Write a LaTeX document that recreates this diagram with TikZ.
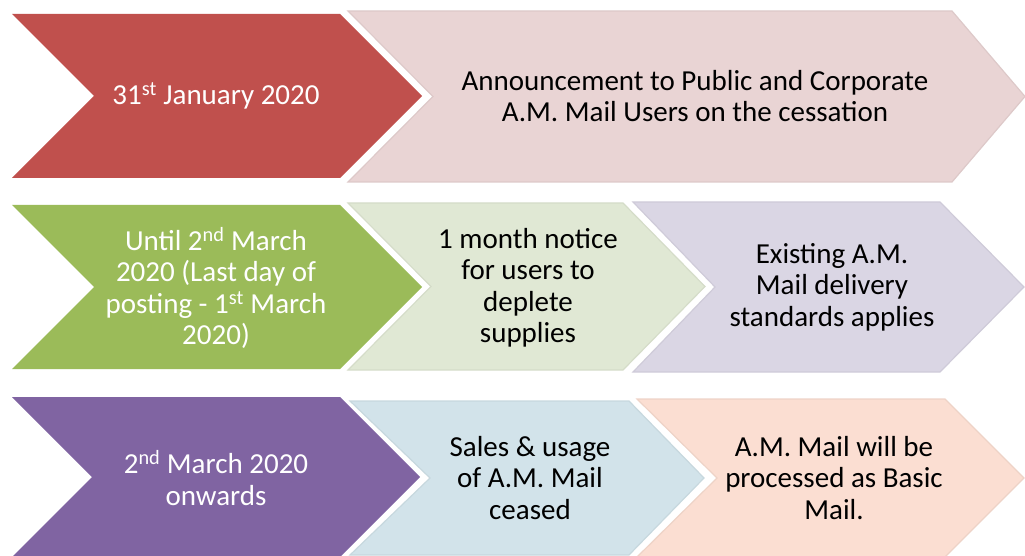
\documentclass[tikz,border=0pt]{standalone}
\usepackage{fontspec}
\setmainfont{Carlito}
\usepackage{xcolor}
\usepackage{tikz}
\usetikzlibrary{positioning}
\definecolor{redDark}{HTML}{C0504D}
\definecolor{greenDark}{HTML}{9BBB59}
\definecolor{purpleDark}{HTML}{8064A2}
\definecolor{pinkLight}{HTML}{E9D4D4}
\definecolor{greenLight}{HTML}{E0E8D4}
\definecolor{lavenderLight}{HTML}{DAD6E4}
\definecolor{blueLight}{HTML}{D2E3EA}
\definecolor{peachLight}{HTML}{FBDED2}
\tikzstyle{darkChevron}=[draw=none]
\tikzstyle{lightChevron}=[line width=1.2pt, line join=miter]
\tikzstyle{chevronText}=[align=center, font=\fontsize{29}{31.5}\selectfont, inner sep=0pt]
\tikzstyle{darkText}=[chevronText, text=white]
\tikzstyle{lightText}=[chevronText, text=black]

\begin{document}
\begin{tikzpicture}[x=1pt, y=-1pt]
      \useasboundingbox (0,0) rectangle (1025,556);

      % light chevrons: left/top/right/bottom/tip/notch/colour
      \foreach \l/\t/\r/\b/\d/\n/\c in {348/11/952/182/73/85/pinkLight,
        348/203/623/370/82/83/greenLight, 633/202/940/372/84/82/lavenderLight,
        350/401/629/555/75/80/blueLight, 637/399/945/557/79/80/peachLight}{
        \draw[lightChevron, fill=\c, draw=\c!95!black]
        (\l,\t) -- (\r,\t) -- ({\r+\d},{(\t+\b)/2}) -- (\r,\b) --
        (\l,\b) -- ({\l+\n},{(\t+\b)/2}) -- cycle;
      }

      % dark chevrons
      \foreach \t/\b/\c in {14/178/redDark, 205/369/greenDark, 397/557/purpleDark}{
        \fill[darkChevron, \c]
        (12,\t) -- (340,\t) -- ({340+(\b-\t)/2},{(\t+\b)/2}) -- (340,\b) --
        (12,\b) -- ({12+(\b-\t)/2},{(\t+\b)/2}) -- cycle;
      }

      \node[darkText] (date1) at (216,96) {31\textsuperscript{st} January 2020};
      \node[lightText] (step1) at (695,96) {Announcement to Public and Corporate\\A.M. Mail Users on the cessation};

      \node[darkText] (date2) at (216,288) {Until 2\textsuperscript{nd} March\\2020 (Last day of\\posting - 1\textsuperscript{st} March\\2020)};
      \node[lightText] (step2a) at (528,288) {1 month notice\\for users to\\deplete\\supplies};
      \node[lightText] (step2b) at (832,287) {Existing A.M.\\Mail delivery\\standards applies};

      \node[darkText] (date3) at (216,478) {2\textsuperscript{nd} March 2020\\onwards};
      \node[lightText] (step3a) at (530,478) {Sales \& usage\\of A.M. Mail\\ceased};
      \node[lightText] (step3b) at (834,478) {A.M. Mail will be\\processed as Basic\\Mail.};
\end{tikzpicture}
\end{document}
